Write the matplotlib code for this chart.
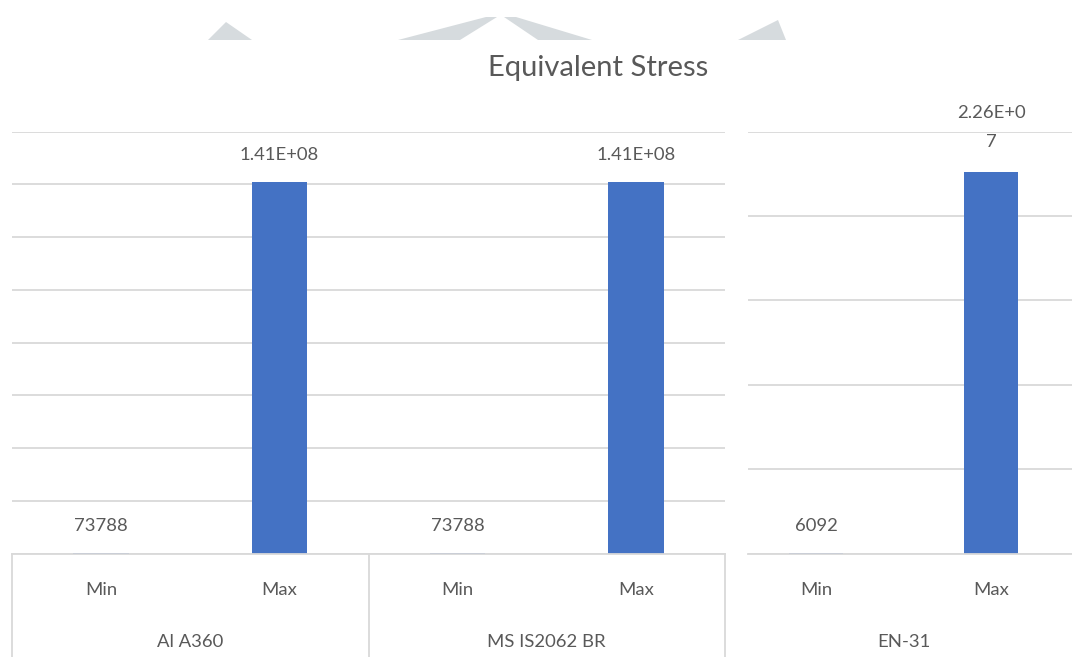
import matplotlib
matplotlib.use("Agg")
import matplotlib.pyplot as plt
from matplotlib.patches import Polygon
from matplotlib.transforms import blended_transform_factory

plt.rcParams['font.family'] = ['Lato', 'DejaVu Sans']

# ---- data ----
title = "Equivalent Stress"
left_groups = ["Al A360", "MS IS2062 BR"]
right_groups = ["EN-31"]
sub_labels = ["Min", "Max"]
left_values = [73788, 1.41e8, 73788, 1.41e8]
left_value_labels = ["73788", "1.41E+08", "73788", "1.41E+08"]
right_values = [6092, 2.26e7]
right_value_labels = ["6092", "2.26E+0\n7"]
left_ymax, left_step = 1.6e8, 2e7
right_ymax, right_step = 2.5e7, 5e6

BAR = '#4472C4'
GRID = '#D9D9D9'
TXT = '#595959'
FS = 13.3

W, H = 1072, 657
fig = plt.figure(figsize=(W / 100, H / 100), dpi=100)
fig.patch.set_facecolor('white')

def fx(px):
    return px / W

def fy(py):
    return 1 - py / H

# watermark fragments at the top
wm = '#D6DBDE'
for pts in [
    [(208, 40), (226, 22), (252, 40)],
    [(398, 40), (486, 17), (497, 17), (460, 40)],
    [(504, 17), (516, 17), (592, 40), (538, 40)],
    [(738, 40), (778, 20), (786, 40)],
]:
    fig.patches.append(Polygon([(fx(x), fy(y)) for x, y in pts], closed=True,
                               transform=fig.transFigure, facecolor=wm, edgecolor='none'))

top_px, base_px = 131.7, 553.5
ax_b = fy(base_px)
ax_h = (base_px - top_px) / H

def style(ax, ymax, step):
    ax.set_ylim(0, ymax)
    ax.set_yticks([step * i for i in range(int(round(ymax / step)) + 1)])
    ax.grid(axis='y', color=GRID, linewidth=1.3)
    ax.set_axisbelow(True)
    for s in ['top', 'left', 'right']:
        ax.spines[s].set_visible(False)
    ax.spines['bottom'].set_color(GRID)
    ax.spines['bottom'].set_linewidth(1.3)
    ax.tick_params(left=False, bottom=False, labelleft=False, labelbottom=False)

def draw(ax, values, labels, groups, xl, xr, seps):
    n = len(values)
    xs = list(range(n))
    ax.bar(xs, values, width=0.31, color=BAR, zorder=2)
    ax.set_xlim(xl, xr)
    for x, v, lab in zip(xs, values, labels):
        if '\n' in lab:
            ax.annotate(lab, (x, v), xytext=(0, 32.5), textcoords='offset points',
                        ha='center', va='center', fontsize=FS, color=TXT, linespacing=2.0)
        else:
            ax.annotate(lab, (x, v), xytext=(0, 19.5), textcoords='offset points',
                        ha='center', va='center', fontsize=FS, color=TXT)
    tr = blended_transform_factory(ax.transData, ax.transAxes)
    y_sub = (base_px - 590) / (base_px - top_px)
    y_grp = (base_px - 642) / (base_px - top_px)
    y_bot = (base_px - 660) / (base_px - top_px)
    for x in xs:
        ax.text(x, y_sub, sub_labels[x % 2], transform=tr, ha='center', va='center',
                fontsize=FS, color=TXT)
    for g, name in enumerate(groups):
        ax.text(2 * g + 0.5, y_grp, name, transform=tr, ha='center', va='center',
                fontsize=FS, color=TXT)
    for s in seps:
        ax.plot([s, s], [0, y_bot], transform=tr, color=GRID, linewidth=1.3, clip_on=False)

axL = fig.add_axes([fx(12), ax_b, fx(725 - 12), ax_h])
style(axL, left_ymax, left_step)
draw(axL, left_values, left_value_labels, left_groups, -0.5, 3.5, [-0.5, 1.5, 3.5])

axR = fig.add_axes([fx(748), ax_b, fx(W - 748), ax_h])
style(axR, right_ymax, right_step)
cw = 175.0
draw(axR, right_values, right_value_labels, right_groups,
     -(816 - 748) / cw, (W - 816) / cw, [])

fig.text(fx(598), fy(68), title, ha='center', va='center', fontsize=21, color=TXT)

fig.savefig('out.png', dpi=100, facecolor='white')
